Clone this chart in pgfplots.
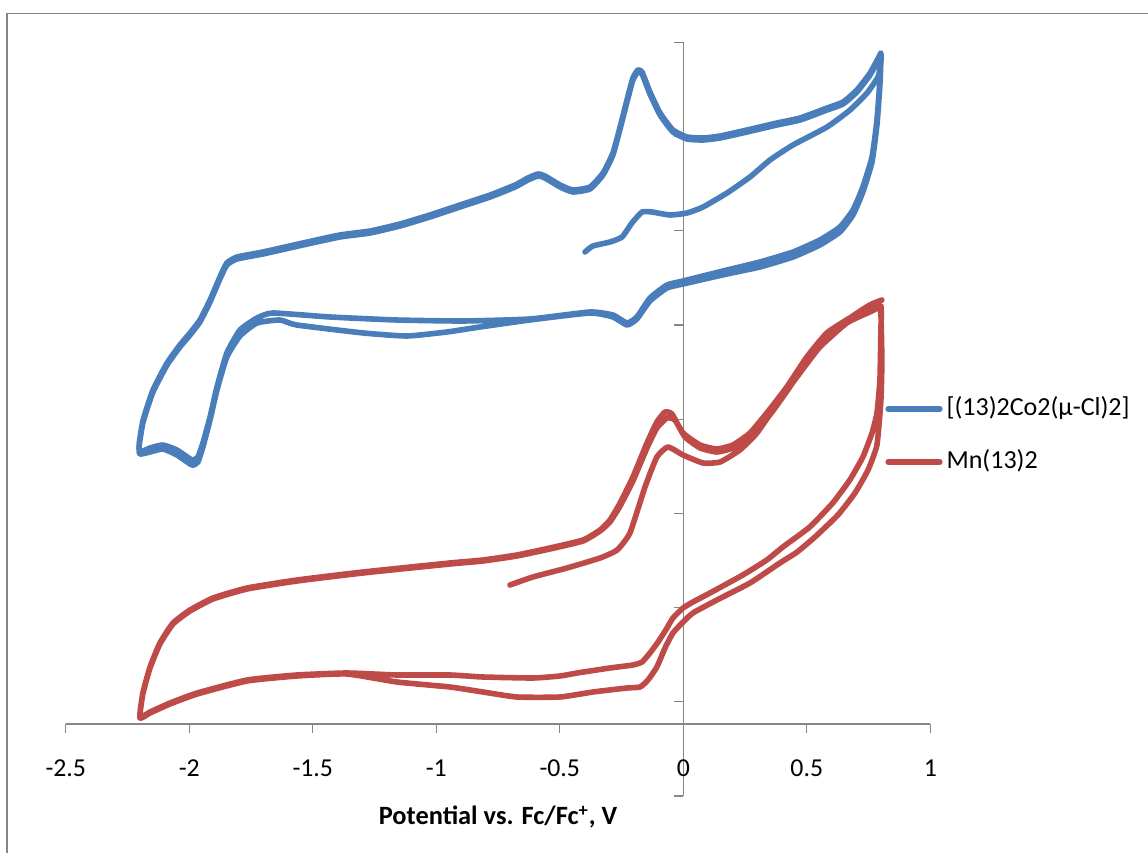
\documentclass[border=0pt]{standalone}
\usepackage{pgfplots}
\pgfplotsset{compat=1.18}
\usepackage{fontspec}
\setmainfont{Carlito}
\definecolor{cvblue}{HTML}{4A7EBB}
\definecolor{cvred}{HTML}{BE4B48}
\definecolor{axgray}{HTML}{868686}

\begin{document}
\begin{tikzpicture}
\useasboundingbox (0,0) rectangle (574pt,426.5pt);
\draw[axgray, line width=0.75pt] (3.5pt,0) -- (3.5pt,419.75pt) -- (574pt,419.75pt);
\begin{axis}[
    at={(32.9pt,28.5pt)}, anchor=south west,
    scale only axis, width=432.25pt, height=376.8pt,
    xmin=-2.5, xmax=1, ymin=-72, ymax=681.6,
    axis lines=middle,
    axis line style={-, draw=axgray, line width=0.6pt},
    hide obscured x ticks=false, hide obscured y ticks=false,
    xtick={-2.5,-2,-1.5,-1,-0.5,0,0.5,1},
    xticklabels={-2.5,-2,-1.5,-1,-0.5,0,0.5,1},
    ytick={-72,22.2,116.4,210.6,304.8,399,493.2,587.4,681.6},
    yticklabels={},
    tick align=outside, major tick length=4.5pt,
    tick style={axgray, line width=0.6pt},
    xticklabel style={font=\fontsize{12.9}{14}\selectfont, anchor=base, yshift=-21.75pt},
    xlabel={\textbf{Potential vs. Fc/Fc\textsuperscript{+}, V}},
    xlabel style={font=\fontsize{13.2}{15}\selectfont, at={(axis description cs:0.5,0)}, anchor=base, yshift=-14.5pt},
    clip=false,
    legend style={at={(axis description cs:0.9476,0.4784)}, anchor=west,
        draw=none, fill=none, inner sep=0pt, row sep=13.5pt, column sep=2pt,
        font=\fontsize{13}{15}\selectfont,
        nodes={inner sep=0pt, text height=9.75pt, text depth=3.25pt}},
    legend cell align=left,
    legend image code/.code={\draw[#1, line width=2.6pt, line cap=round] (0pt,0pt) -- (26pt,0pt);},
]
\addplot[cvblue, line width=2.8pt, line join=round, line cap=round, smooth, tension=0.3] coordinates {
(-0.398,472) (-0.366,478) (-0.297,482) (-0.248,487) (-0.208,501) (-0.167,512) (-0.127,512) (-0.054,509) (0.015,511) (0.080,517) (0.177,531) (0.270,547) (0.351,564) (0.444,579) (0.582,597) (0.675,614) (0.744,631) (0.788,647) (0.800,661) (0.800,671)
(0.796,669) (0.756,651) (0.703,634) (0.647,622) (0.582,616) (0.473,606) (0.379,601) (0.258,594) (0.149,588) (0.080,586) (0.015,587) (-0.042,594) (-0.094,611) (-0.135,632) (-0.167,652) (-0.184,654) (-0.204,646) (-0.228,624) (-0.256,597) (-0.285,571) (-0.325,551) (-0.378,537) (-0.447,534) (-0.499,539) (-0.560,548) (-0.588,550) (-0.629,546) (-0.681,539) (-0.782,529) (-0.904,519) (-1.026,509) (-1.147,500) (-1.268,493) (-1.390,489) (-1.540,481) (-1.702,472) (-1.807,467) (-1.848,461) (-1.876,447) (-1.916,424) (-1.957,404) (-1.997,391) (-2.038,379) (-2.090,361) (-2.147,334) (-2.187,304) (-2.203,280) (-2.200,272)
(-2.159,276) (-2.107,279) (-2.050,274) (-1.989,264) (-1.965,267) (-1.945,281) (-1.916,307) (-1.888,337) (-1.848,371) (-1.795,394) (-1.726,406) (-1.661,411) (-1.430,407) (-1.160,404) (-0.892,403) (-0.621,405) (-0.378,412) (-0.285,409) (-0.228,401) (-0.188,407) (-0.135,426) (-0.066,439) (-0.001,443) (0.177,454) (0.310,462) (0.444,472) (0.553,484) (0.634,497) (0.687,514) (0.727,537) (0.764,567) (0.784,604) (0.796,644) (0.800,669)
(0.796,667) (0.756,649) (0.703,632) (0.647,620) (0.582,614) (0.473,604) (0.379,599) (0.258,592) (0.149,586) (0.080,584) (0.015,585) (-0.042,592) (-0.094,609) (-0.135,630) (-0.167,650) (-0.184,652) (-0.204,644) (-0.228,622) (-0.256,595) (-0.285,569) (-0.325,549) (-0.378,535) (-0.447,532) (-0.499,537) (-0.560,546) (-0.588,548) (-0.629,544) (-0.681,537) (-0.782,527) (-0.904,517) (-1.026,507) (-1.147,498) (-1.268,491) (-1.390,487) (-1.540,479) (-1.702,470) (-1.807,465) (-1.848,459) (-1.876,445) (-1.916,422) (-1.957,402) (-1.997,389) (-2.038,377) (-2.090,359) (-2.147,332) (-2.187,302) (-2.203,278) (-2.200,270)
(-2.159,272) (-2.107,275) (-2.050,269) (-1.989,259) (-1.965,262) (-1.945,277) (-1.916,304) (-1.888,334) (-1.848,367) (-1.795,388) (-1.726,401) (-1.633,404) (-1.565,399) (-1.295,391) (-1.119,388) (-0.957,392) (-0.823,397) (-0.621,404) (-0.378,411) (-0.285,407) (-0.228,399) (-0.188,405) (-0.135,423) (-0.066,436) (-0.001,440) (0.177,450) (0.310,457) (0.444,467) (0.553,479) (0.634,492) (0.687,509) (0.727,532) (0.764,562) (0.784,599) (0.796,639) (0.800,664)
};
\addlegendentry{[(13)2Co2(μ-Cl)2]}
\addplot[cvred, line width=2.8pt, line join=round, line cap=round, smooth, tension=0.3] coordinates {
(-0.702,139) (-0.609,147) (-0.471,156) (-0.337,166) (-0.268,174) (-0.216,191) (-0.155,237) (-0.107,267) (-0.062,277) (-0.001,269) (0.080,261) (0.149,262) (0.229,274) (0.298,291) (0.391,324) (0.472,351) (0.553,377) (0.662,401) (0.755,412) (0.800,416)
(0.800,394) (0.796,344) (0.784,311) (0.764,291) (0.727,267) (0.674,244) (0.605,221) (0.512,197) (0.403,177) (0.338,164) (0.241,149) (0.108,131) (0.039,122) (-0.001,116) (-0.042,106) (-0.066,96) (-0.102,82) (-0.135,71) (-0.167,62) (-0.204,59) (-0.297,56) (-0.430,51) (-0.499,48) (-0.609,46) (-0.811,47) (-0.945,49) (-1.159,49) (-1.362,51) (-1.564,49) (-1.766,44) (-1.968,31) (-2.078,21) (-2.159,12) (-2.200,7)
(-2.188,31) (-2.159,57) (-2.119,81) (-2.066,101) (-1.997,114) (-1.904,126) (-1.766,136) (-1.564,144) (-1.297,152) (-0.945,161) (-0.811,164) (-0.674,169) (-0.540,176) (-0.406,184) (-0.337,194) (-0.297,204) (-0.256,221) (-0.204,247) (-0.147,281) (-0.107,302) (-0.074,312) (-0.046,310) (-0.001,291) (0.068,279) (0.136,275) (0.201,279) (0.270,291) (0.338,311) (0.419,337) (0.500,367) (0.581,391) (0.674,406) (0.755,416) (0.800,418)
(0.800,414) (0.804,364) (0.800,324) (0.784,279) (0.748,254) (0.695,231) (0.626,209) (0.533,187) (0.461,172) (0.391,161) (0.270,141) (0.136,124) (0.039,111) (-0.001,102) (-0.042,91) (-0.074,76) (-0.107,57) (-0.143,44) (-0.175,37) (-0.228,36) (-0.366,32) (-0.499,27) (-0.674,27) (-0.811,32) (-0.945,37) (-1.159,42) (-1.362,50) (-1.564,48) (-1.766,43) (-1.968,30) (-2.078,20) (-2.159,11) (-2.200,6)
(-2.188,30) (-2.159,56) (-2.119,80) (-2.066,100) (-1.997,113) (-1.904,125) (-1.766,135) (-1.564,143) (-1.297,151) (-0.945,160) (-0.811,163) (-0.674,168) (-0.540,175) (-0.406,183) (-0.337,193) (-0.297,202) (-0.256,218) (-0.204,243) (-0.147,276) (-0.107,296) (-0.066,306) (-0.034,304) (0.007,287) (0.068,276) (0.136,272) (0.201,276) (0.270,288) (0.350,309) (0.431,337) (0.510,367) (0.590,390) (0.680,407) (0.755,419) (0.804,424)
};
\addlegendentry{Mn(13)2}
\end{axis}
\end{tikzpicture}
\end{document}
